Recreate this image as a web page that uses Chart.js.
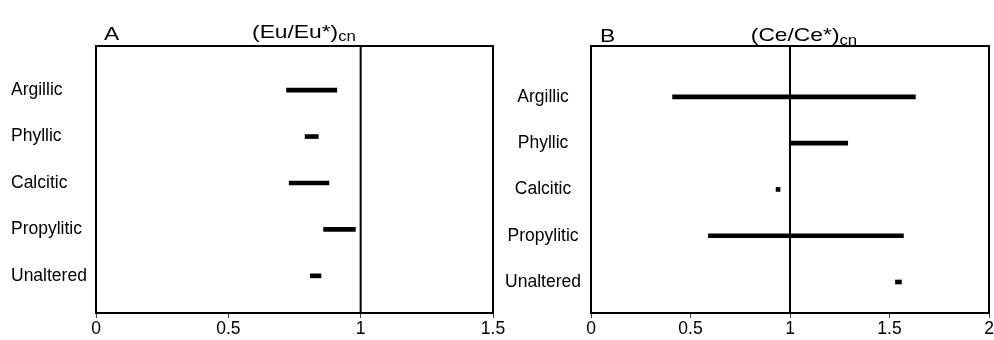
<!DOCTYPE html>
<html>
<head>
<meta charset="utf-8">
<script src="https://cdn.jsdelivr.net/npm/chart.js@4.4.0/dist/chart.umd.min.js"></script>
<style>
  body { margin: 0; background: #fff; width: 994px; height: 340px; position: relative; overflow: hidden; }
  #wrapA { position: absolute; left: 0; top: 0; width: 520px; height: 340px; }
  #wrapB { position: absolute; left: 495px; top: 0; width: 499px; height: 340px; }
</style>
</head>
<body>
<div id="wrapA"><canvas id="chartA" width="520" height="340"></canvas></div>
<div id="wrapB"><canvas id="chartB" width="499" height="340"></canvas></div>
<script>
// Alteration zones (rows, top to bottom)
const zones = ['Argillic', 'Phyllic', 'Calcitic', 'Propylitic', 'Unaltered'];
const rows = [1, 2, 3, 4, 5];

// (Eu/Eu*)cn range per zone
const euMin = [0.72, 0.79, 0.73, 0.86, 0.81];
const euMax = [0.91, 0.84, 0.88, 0.98, 0.85];

// (Ce/Ce*)cn range per zone
const ceMin = [0.41, 1.00, 0.93, 0.59, 1.53];
const ceMax = [1.63, 1.29, 0.95, 1.57, 1.56];

// x axis ticks
const euTicks = [0, 0.5, 1, 1.5];
const ceTicks = [0, 0.5, 1, 1.5, 2];

// reference line (ratio = 1)
const refValue = 1;

const FONT = '"Liberation Sans", Arial, sans-serif';

// box round the plot + vertical reference line
const framePlugin = {
    id: 'frame',
    afterDatasetsDraw(chart, args, opts) {
        const { ctx, chartArea: a, scales: { x } } = chart;
        ctx.save();
        ctx.strokeStyle = '#000';
        ctx.lineWidth = 2;
        const rx = x.getPixelForValue(opts.ref);
        ctx.beginPath();
        ctx.moveTo(rx, a.top);
        ctx.lineTo(rx, a.bottom);
        ctx.stroke();
        ctx.strokeRect(a.left, a.top, a.width, a.height);
        ctx.restore();
    }
};

// panel letter and title with subscript (slightly wide type, like the figure)
const titlePlugin = {
    id: 'panelTitle',
    afterDraw(chart, args, opts) {
        const ctx = chart.ctx;
        ctx.save();
        ctx.fillStyle = '#000';
        ctx.textBaseline = 'alphabetic';
        ctx.textAlign = 'left';

        ctx.save();
        ctx.translate(opts.letterX, opts.letterY);
        ctx.scale(1.2, 1);
        ctx.font = '19px ' + FONT;
        ctx.fillText(opts.letter, 0, 0);
        ctx.restore();

        ctx.save();
        ctx.translate(opts.titleX, opts.titleY);
        ctx.scale(1.2, 1);
        ctx.font = '19px ' + FONT;
        const w1 = ctx.measureText(opts.main).width;
        ctx.font = '14px ' + FONT;
        const w2 = ctx.measureText(opts.sub).width;
        const start = -(w1 + w2) / 2;
        ctx.font = '19px ' + FONT;
        ctx.fillText(opts.main, start, 0);
        ctx.font = '14px ' + FONT;
        ctx.fillText(opts.sub, start + w1, opts.subDrop);
        ctx.restore();

        ctx.restore();
    }
};

function makeChart(id, mins, maxs, ticks, cfg) {
    return new Chart(document.getElementById(id), {
        type: 'bar',
        data: {
            datasets: [{
                data: rows.map((r, i) => ({ x: [mins[i], maxs[i]], y: r })),
                backgroundColor: '#000',
                borderWidth: 0,
                barThickness: 4,
                borderSkipped: false
            }]
        },
        options: {
            indexAxis: 'y',
            responsive: false,
            animation: false,
            layout: { padding: cfg.padding },
            plugins: {
                legend: { display: false },
                tooltip: { enabled: false },
                frame: { ref: refValue },
                panelTitle: cfg.title
            },
            scales: {
                x: {
                    type: 'linear',
                    min: ticks[0],
                    max: ticks[ticks.length - 1],
                    afterBuildTicks: s => { s.ticks = ticks.map(v => ({ value: v })); },
                    afterFit: s => { s.height = 27; s.paddingLeft = 0; s.paddingRight = 0; },
                    border: { display: false },
                    grid: { drawOnChartArea: false, drawTicks: true, tickLength: 5, color: '#444', lineWidth: 1 },
                    ticks: {
                        padding: 1,
                        color: '#000',
                        font: { family: FONT, size: 17.5 },
                        maxRotation: 0,
                        autoSkip: false,
                        callback: v => String(v)
                    }
                },
                y: {
                    type: 'linear',
                    reverse: true,
                    offset: false,
                    min: cfg.yMin,
                    max: cfg.yMax,
                    afterBuildTicks: s => { s.ticks = rows.map(v => ({ value: v })); },
                    afterFit: s => { s.width = cfg.yWidth; s.paddingTop = 0; s.paddingBottom = 0; },
                    border: { display: false },
                    grid: { display: false, drawTicks: false, offset: false },
                    ticks: {
                        crossAlign: cfg.crossAlign,
                        padding: 10,
                        color: '#000',
                        font: { family: FONT, size: 17.5 },
                        autoSkip: false,
                        callback: v => zones[v - 1]
                    }
                }
            }
        },
        plugins: [framePlugin, titlePlugin]
    });
}

makeChart('chartA', euMin, euMax, euTicks, {
    padding: { left: 11, top: 46, right: 27, bottom: 0 },
    yMin: 0.05, yMax: 5.8, yWidth: 85, crossAlign: 'far',
    title: { letter: 'A', letterX: 104, letterY: 40, main: '(Eu/Eu*)', sub: 'cn', titleX: 304, titleY: 38, subDrop: 3 }
});

makeChart('chartB', ceMin, ceMax, ceTicks, {
    padding: { left: 0, top: 46, right: 5, bottom: 0 },
    yMin: -0.1, yMax: 5.67, yWidth: 96, crossAlign: 'center',
    title: { letter: 'B', letterX: 105, letterY: 42, main: '(Ce/Ce*)', sub: 'cn', titleX: 309, titleY: 41, subDrop: 4 }
});
</script>
</body>
</html>
